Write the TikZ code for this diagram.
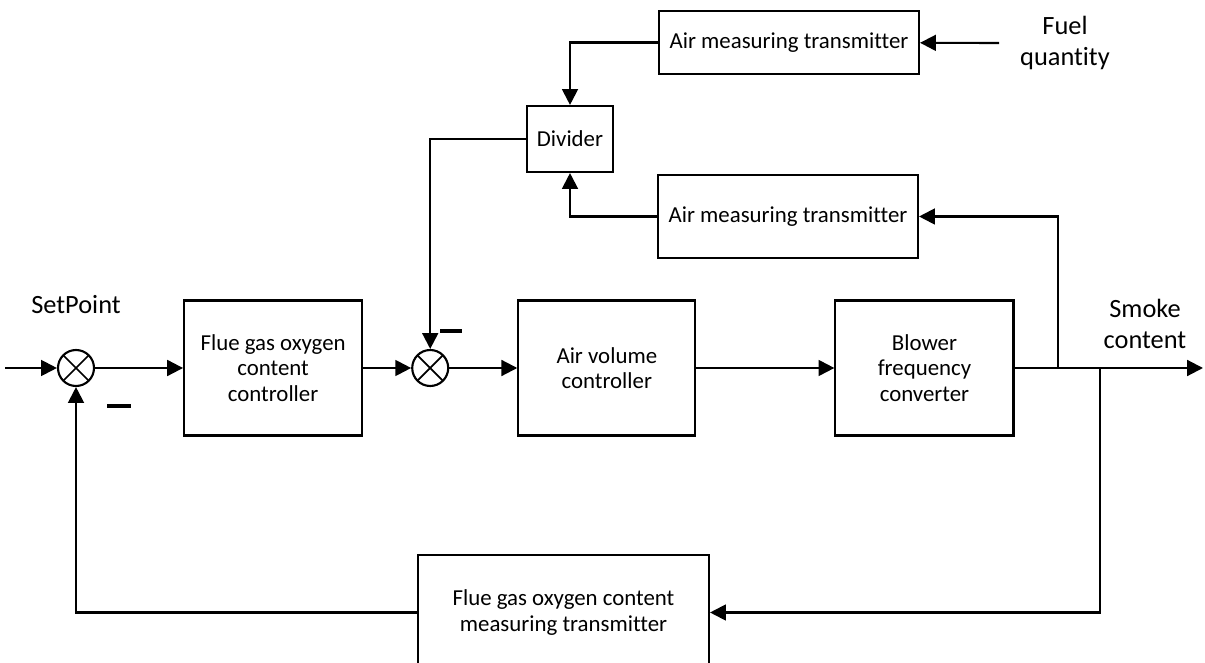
\documentclass[tikz,border=0pt]{standalone}
\usepackage{fontspec}
\setmainfont{Carlito}[Ligatures=NoCommon]
\usepackage{tikz}
\usetikzlibrary{arrows.meta, positioning}

\begin{document}
\begin{tikzpicture}[
    block/.style={rectangle, draw, line width=1.2pt, minimum width=3.56cm, minimum height=2.7cm,
                  align=center, font=\fontsize{13}{14.5}\selectfont},
    meas/.style={rectangle, draw, line width=1.2pt, minimum width=5.2cm,
                 align=center, font=\fontsize{13}{14.5}\selectfont},
    sumnode/.style={circle, draw, line width=1.2pt, minimum size=0.72cm, inner sep=0pt,
                    path picture={\draw[line width=1pt] (path picture bounding box.north west) -- (path picture bounding box.south east)
                                  (path picture bounding box.north east) -- (path picture bounding box.south west);}},
    minus/.style={rectangle, fill=black, minimum width=0.48cm, minimum height=0.09cm, inner sep=0pt},
    label/.style={align=center, font=\fontsize{15}{18}\selectfont},
    arrow/.style={-{Triangle[length=9pt, width=9pt]}, line width=1.2pt},
    line/.style={line width=1.2pt}
]
\useasboundingbox (0,0) rectangle (24.1,-13.26);
\clip (0,0) rectangle (24.1,-13.26);

% main loop
\node[sumnode] (sum1) at (1.52,-7.36) {};
\node[block, right=1.76cm of sum1] (oxyctrl) {Flue gas oxygen\\content\\controller};
\node[sumnode, right=0.96cm of oxyctrl] (sum2) {};
\node[block, minimum width=3.54cm, right=1.36cm of sum2] (airctrl) {Air volume\\controller};
\node[block, right=2.76cm of airctrl] (blower) {Blower\\frequency\\converter};

% ratio part
\node[meas, minimum height=1.26cm] (airmeas1) at (15.78,-0.85) {Air measuring transmitter};
\node[meas, minimum height=1.66cm] (airmeas2) at (15.76,-4.33) {Air measuring transmitter};
\node[block, minimum width=1.72cm, minimum height=1.32cm] (divider) at (11.4,-2.78) {Divider};
\node[block, minimum width=5.82cm, minimum height=2.3cm] (oxymeas) at (11.27,-12.25) {Flue gas oxygen content\\measuring transmitter};

% labels
\node[label] (setpoint) at (1.52,-6.1) {SetPoint};
\node[label] (smoke) at (22.9,-6.48) {Smoke\\content};
\node[label] (fuel) at (21.3,-0.86) {Fuel\\quantity};
\node[minus] (minus1) at (2.37,-8.12) {};
\node[minus, minimum width=0.44cm] (minus2) at (9.02,-6.62) {};

\coordinate (in) at (0.1,-7.36);
\coordinate (out) at (24.06,-7.36);
\coordinate (up) at (21.16,-7.36);
\coordinate (down) at (22.0,-7.36);
\coordinate (fuelin) at (19.98,-0.86);

\draw[arrow] (in) -- (sum1);
\draw[arrow] (sum1) -- (oxyctrl);
\draw[arrow] (oxyctrl) -- (sum2);
\draw[arrow] (sum2) -- (airctrl);
\draw[arrow] (airctrl) -- (blower);
\draw[arrow] (blower) -- (out);
\draw[arrow] (up) |- (airmeas2);
\draw[arrow] (airmeas2) -| (divider);
\draw[arrow] (airmeas1) -| (divider);
\draw[arrow] (fuelin) -- (airmeas1);
\draw[arrow] (divider) -| (sum2);
\draw[arrow] (down) |- (oxymeas);
\draw[arrow] (oxymeas) -| (sum1);

\end{tikzpicture}
\end{document}
